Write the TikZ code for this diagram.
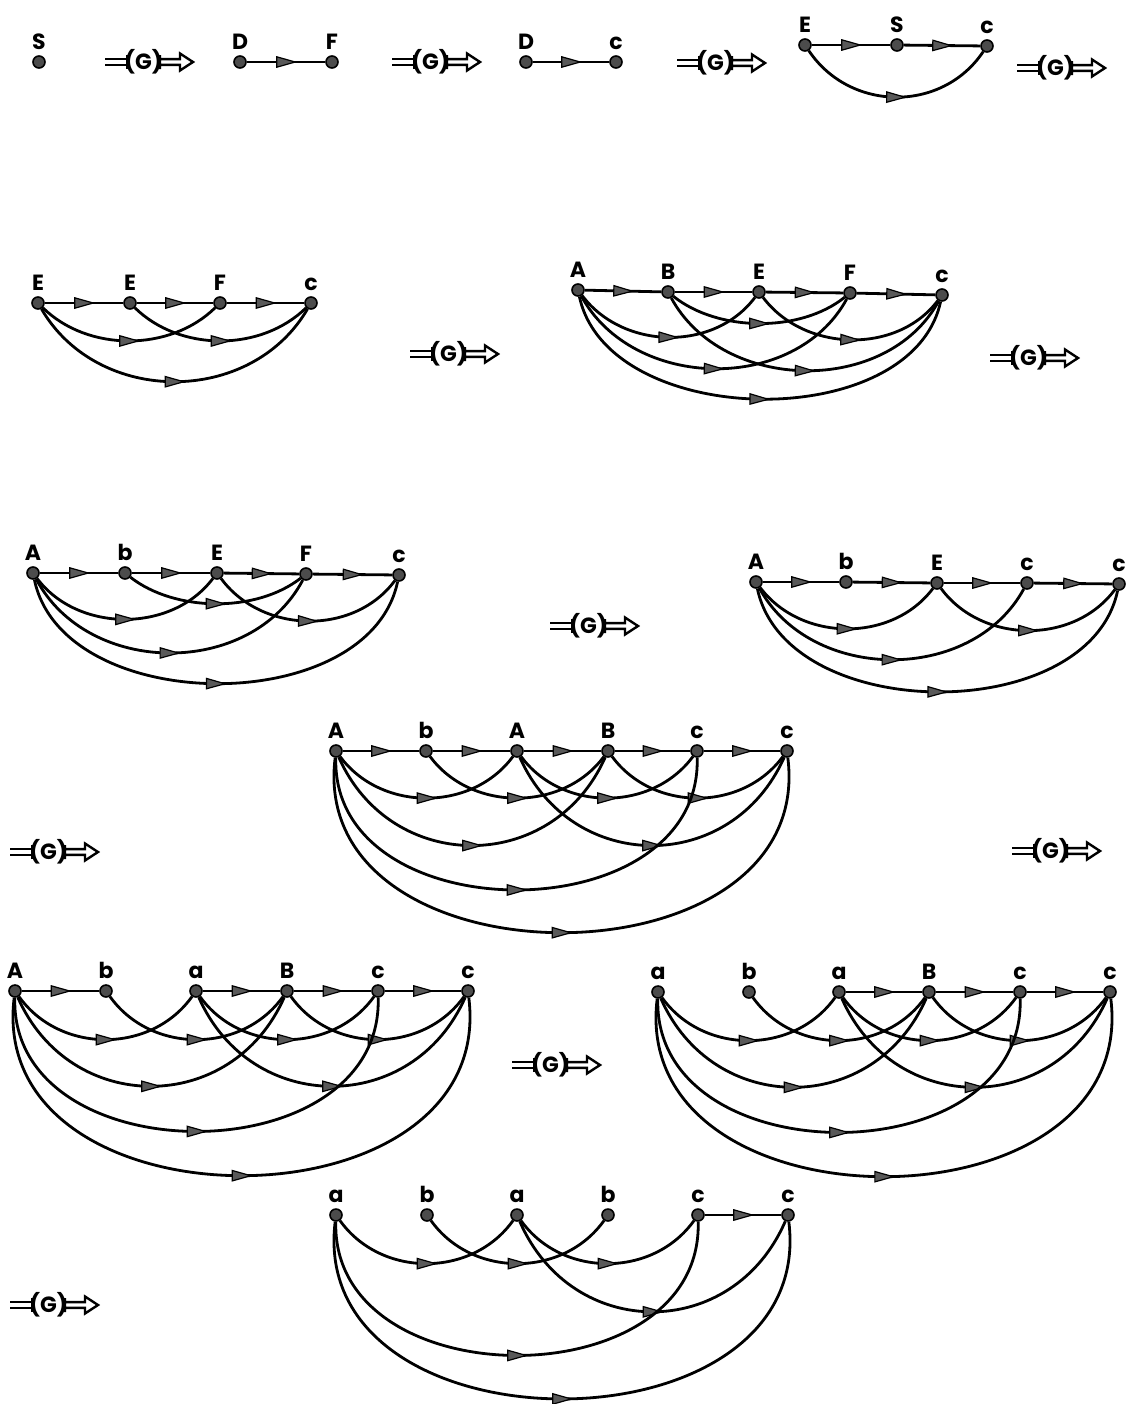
\documentclass[tikz,border=0pt]{standalone}
\usepackage{fontspec}
\setsansfont{Poppins}
\usetikzlibrary{decorations.markings}
\tikzset{
  vtx/.style={circle, fill=black!70, draw=black, line width=0.8pt, inner sep=0pt, minimum size=6pt},
  lbl/.style={font=\sffamily\bfseries\fontsize{11}{13}\selectfont, inner sep=0pt, text depth=0pt},
  glbl/.style={font=\sffamily\bfseries\fontsize{11}{13}\selectfont, inner sep=0pt},
  link/.style={line width=1.4pt, postaction={decorate},
    decoration={markings, mark=at position 0.5 with {\filldraw[fill=black!65, draw=black, line width=0.6pt] (-4.6pt,-2.6pt) -- (4.6pt,0pt) -- (-4.6pt,2.6pt) -- cycle;}}},
  deriv/.pic={
    \draw[line width=1.2pt] (0,-2.9) -- (22,-2.9) (0,2.9) -- (22,2.9) (22,-7) -- (22,7);
    \node[glbl] (-t) at (38.5,0) {(G)};
    \draw[line width=1.2pt] (55,-7) -- (55,7)
      (55,-2.9) -- (75,-2.9) -- (75,-8.5) -- (88,0) -- (75,8.5) -- (75,2.9) -- (55,2.9);
  }
}
\newcommand\vx[3]{\node[vtx,label={[lbl]above:#3}] (#1) at (#2) {};}
\newcommand\crv[4]{\draw[link] (#1) .. controls +(#3,#4) and +(-#3,#4) .. (#2);}
\newcommand\stl[2]{\draw[link] (#1) -- (#2);}
\begin{document}
\begin{tikzpicture}[x=0.5pt, y=-0.5pt, label distance=2.5pt]
\fill[white] (0,0) rectangle (1126,1404);
\useasboundingbox (0,0) rectangle (1126,1404);

% derivation symbols
\pic (d1) at (105,62) {deriv};
\pic (d2) at (392,62) {deriv};
\pic (d3) at (677,63) {deriv};
\pic (d4) at (1017,68) {deriv};
\pic (d5) at (410,354) {deriv};
\pic (d6) at (990,358) {deriv};
\pic (d7) at (550,626) {deriv};
\pic (d8) at (10,852) {deriv};
\pic (d9) at (1012,851) {deriv};
\pic (d10) at (512,1065) {deriv};
\pic (d11) at (10,1305) {deriv};

% G1
\vx{g1S}{39,62}{S}
% G2
\vx{g2D}{240,62}{D}
\vx{g2F}{332,62}{F}
\stl{g2D}{g2F}
% G3
\vx{g3D}{526,62}{D}
\vx{g3c}{616,62}{c}
\stl{g3D}{g3c}
% G4
\vx{g4E}{805,45}{E}
\vx{g4S}{897,45}{S}
\vx{g4c}{987,46}{c}
\stl{g4E}{g4S}
\stl{g4S}{g4c}
\crv{g4E}{g4c}{45}{67}

% G5
\vx{g5a}{38,303}{E}
\vx{g5b}{130,303}{E}
\vx{g5c}{220,303}{F}
\vx{g5d}{311,303}{c}
\stl{g5a}{g5b}
\stl{g5b}{g5c}
\stl{g5c}{g5d}
\crv{g5a}{g5c}{50}{49}
\crv{g5b}{g5d}{50}{49}
\crv{g5a}{g5d}{60}{103}

% G6
\vx{g6a}{578,290}{A}
\vx{g6b}{668,292}{B}
\vx{g6c}{759,292}{E}
\vx{g6d}{850,293}{F}
\vx{g6e}{942,295}{c}
\stl{g6a}{g6b}
\stl{g6b}{g6c}
\stl{g6c}{g6d}
\stl{g6d}{g6e}
\crv{g6a}{g6c}{45}{60}
\crv{g6b}{g6d}{50}{40}
\crv{g6c}{g6e}{45}{60}
\crv{g6a}{g6d}{55}{101}
\crv{g6b}{g6e}{55}{101}
\crv{g6a}{g6e}{30}{140}

% G7
\vx{g7a}{33,573}{A}
\vx{g7b}{125,573}{b}
\vx{g7c}{217,573}{E}
\vx{g7d}{306,574}{F}
\vx{g7e}{399,575}{c}
\stl{g7a}{g7b}
\stl{g7b}{g7c}
\stl{g7c}{g7d}
\stl{g7d}{g7e}
\crv{g7a}{g7c}{45}{60}
\crv{g7b}{g7d}{50}{39}
\crv{g7c}{g7e}{45}{61}
\crv{g7a}{g7d}{55}{104}
\crv{g7a}{g7e}{30}{144}

% G8
\vx{g8a}{756,582}{A}
\vx{g8b}{846,582}{b}
\vx{g8c}{937,583}{E}
\vx{g8d}{1027,583}{c}
\vx{g8e}{1119,584}{c}
\stl{g8a}{g8b}
\stl{g8b}{g8c}
\stl{g8c}{g8d}
\stl{g8d}{g8e}
\crv{g8a}{g8c}{45}{60}
\crv{g8c}{g8e}{45}{61}
\crv{g8a}{g8d}{55}{101}
\crv{g8a}{g8e}{30}{143}

% G9
\vx{g9a}{336,751}{A}
\vx{g9b}{426,751}{b}
\vx{g9c}{517,751}{A}
\vx{g9d}{608,751}{B}
\vx{g9e}{697,751}{c}
\vx{g9f}{787,751}{c}
\stl{g9a}{g9b}
\stl{g9b}{g9c}
\stl{g9c}{g9d}
\stl{g9d}{g9e}
\stl{g9e}{g9f}
\crv{g9a}{g9c}{45}{61}
\crv{g9b}{g9d}{45}{61}
\crv{g9c}{g9e}{45}{61}
\crv{g9d}{g9f}{45}{61}
\crv{g9a}{g9d}{55}{124}
\crv{g9c}{g9f}{55}{124}
\crv{g9a}{g9e}{-5}{183}
\crv{g9a}{g9f}{-30}{240}

% G10
\vx{g10a}{15,991}{A}
\vx{g10b}{106,991}{b}
\vx{g10c}{196,991}{a}
\vx{g10d}{287,991}{B}
\vx{g10e}{378,991}{c}
\vx{g10f}{468,991}{c}
\stl{g10a}{g10b}
\stl{g10c}{g10d}
\stl{g10d}{g10e}
\stl{g10e}{g10f}
\crv{g10a}{g10c}{45}{63}
\crv{g10b}{g10d}{45}{63}
\crv{g10c}{g10e}{45}{63}
\crv{g10d}{g10f}{45}{63}
\crv{g10a}{g10d}{55}{125}
\crv{g10c}{g10f}{55}{125}
\crv{g10a}{g10e}{-5}{185}
\crv{g10a}{g10f}{-30}{244}

% G11
\vx{g11a}{658,992}{a}
\vx{g11b}{749,992}{b}
\vx{g11c}{839,992}{a}
\vx{g11d}{929,992}{B}
\vx{g11e}{1020,992}{c}
\vx{g11f}{1110,992}{c}
\stl{g11c}{g11d}
\stl{g11d}{g11e}
\stl{g11e}{g11f}
\crv{g11a}{g11c}{45}{63}
\crv{g11b}{g11d}{45}{63}
\crv{g11c}{g11e}{45}{63}
\crv{g11d}{g11f}{45}{63}
\crv{g11a}{g11d}{55}{125}
\crv{g11c}{g11f}{55}{125}
\crv{g11a}{g11e}{-5}{185}
\crv{g11a}{g11f}{-30}{244}

% G12
\vx{g12a}{336,1215}{a}
\vx{g12b}{427,1215}{b}
\vx{g12c}{517,1215}{a}
\vx{g12d}{608,1215}{b}
\vx{g12e}{698,1215}{c}
\vx{g12f}{788,1215}{c}
\stl{g12e}{g12f}
\crv{g12a}{g12c}{45}{63}
\crv{g12b}{g12d}{45}{63}
\crv{g12c}{g12e}{45}{63}
\crv{g12c}{g12f}{55}{127}
\crv{g12a}{g12e}{-5}{185}
\crv{g12a}{g12f}{-30}{243}
\end{tikzpicture}
\end{document}
